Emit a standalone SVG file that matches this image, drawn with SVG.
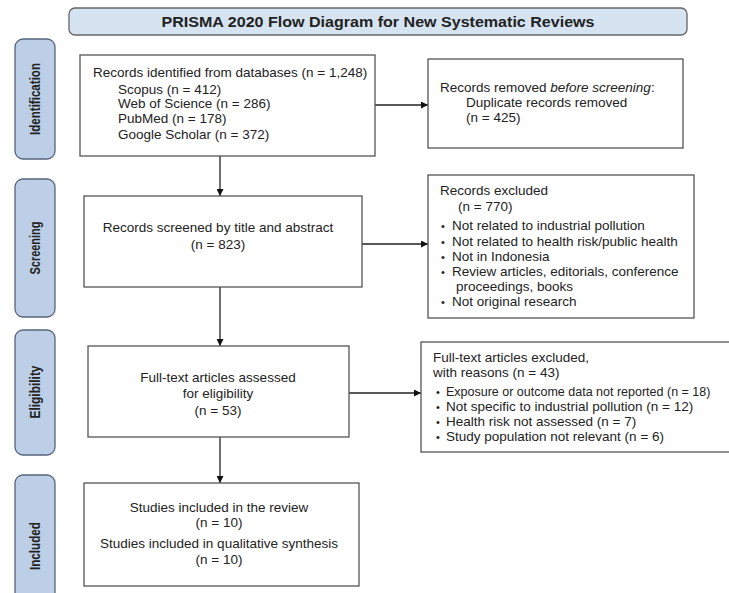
<svg xmlns="http://www.w3.org/2000/svg" width="729" height="593" viewBox="0 0 729 593">
<defs>
<marker id="ah" viewBox="0 0 10 10" refX="10" refY="5" markerWidth="7" markerHeight="7" markerUnits="userSpaceOnUse" orient="auto">
<path d="M0,0 L10,5 L0,10 z" fill="#111"/>
</marker>
<style>
.box{fill:#fff;stroke:#555;stroke-width:1.3}
.tab{fill:#bccfe6;stroke:#56657a;stroke-width:1.3}
.t{font-family:"Liberation Sans",Arial,sans-serif;font-size:13.5px;fill:#222}
.s{font-size:12.5px}
.b{font-size:11px}
.c{text-anchor:middle}
.tl{font-family:"Liberation Sans",Arial,sans-serif;font-size:15px;font-weight:bold;fill:#222;text-anchor:middle}
.conn{stroke:#222;stroke-width:1.3;fill:none;marker-end:url(#ah)}
</style>
</defs>
<rect width="729" height="593" fill="#fff"/>
<g id="title">
<rect x="69" y="8" width="618" height="27" rx="6" fill="#d6e4f1" stroke="#666" stroke-width="1.3"/>
<text x="378" y="27" class="tl" textLength="433" lengthAdjust="spacingAndGlyphs">PRISMA 2020 Flow Diagram for New Systematic Reviews</text>
</g>
<g id="tab-identification">
<rect x="15" y="39" width="40" height="120" rx="8" class="tab"/>
<text transform="translate(40,99) rotate(-90)" class="tl" textLength="72" lengthAdjust="spacingAndGlyphs">Identification</text>
</g>
<g id="tab-screening">
<rect x="15" y="179" width="40" height="138" rx="8" class="tab"/>
<text transform="translate(40,248) rotate(-90)" class="tl" textLength="53" lengthAdjust="spacingAndGlyphs">Screening</text>
</g>
<g id="tab-eligibility">
<rect x="15" y="330" width="40" height="125" rx="8" class="tab"/>
<text transform="translate(40,392) rotate(-90)" class="tl" textLength="53" lengthAdjust="spacingAndGlyphs">Eligibility</text>
</g>
<g id="tab-included">
<rect x="15" y="475" width="40" height="140" rx="8" class="tab"/>
<text transform="translate(40,546) rotate(-90)" class="tl" textLength="48" lengthAdjust="spacingAndGlyphs">Included</text>
</g>
<g id="connectors">
<line x1="220" y1="156" x2="220" y2="196" class="conn"/>
<line x1="375" y1="105" x2="428" y2="105" class="conn"/>
<line x1="362" y1="244" x2="428" y2="244" class="conn"/>
<line x1="220" y1="287" x2="220" y2="346" class="conn"/>
<line x1="349" y1="393" x2="421" y2="393" class="conn"/>
<line x1="220" y1="437" x2="220" y2="483" class="conn"/>
</g>
<g id="identified">
<rect x="80" y="55" width="295" height="101" class="box"/>
<text x="93" y="77" class="t">Records identified from databases (n = 1,248)</text>
<text x="118" y="94" class="t">Scopus (n = 412)</text>
<text x="118" y="108" class="t">Web of Science (n = 286)</text>
<text x="118" y="123" class="t">PubMed (n = 178)</text>
<text x="118" y="139" class="t">Google Scholar (n = 372)</text>
</g>
<g id="removed">
<rect x="428" y="59" width="255" height="89" class="box"/>
<text x="440" y="92" class="t">Records removed <tspan font-style="italic">before screening</tspan>:</text>
<text x="466" y="107" class="t">Duplicate records removed</text>
<text x="466" y="122" class="t">(n = 425)</text>
</g>
<g id="screened">
<rect x="84" y="196" width="278" height="91" class="box"/>
<text x="218" y="232" class="t c">Records screened by title and abstract</text>
<text x="218" y="249" class="t c">(n = 823)</text>
</g>
<g id="excluded">
<rect x="428" y="175" width="266" height="143" class="box"/>
<text x="440" y="195" class="t">Records excluded</text>
<text x="458" y="211" class="t">(n = 770)</text>
<text x="441" y="230" class="t b">•</text><text x="452" y="230" class="t">Not related to industrial pollution</text>
<text x="441" y="246" class="t b">•</text><text x="452" y="246" class="t">Not related to health risk/public health</text>
<text x="441" y="261" class="t b">•</text><text x="452" y="261" class="t">Not in Indonesia</text>
<text x="441" y="276" class="t b">•</text><text x="452" y="276" class="t">Review articles, editorials, conference</text>
<text x="456" y="291" class="t">proceedings, books</text>
<text x="441" y="306" class="t b">•</text><text x="452" y="306" class="t">Not original research</text>
</g>
<g id="assessed">
<rect x="88" y="346" width="261" height="91" class="box"/>
<text x="218" y="382" class="t c">Full-text articles assessed</text>
<text x="218" y="398" class="t c">for eligibility</text>
<text x="218" y="415" class="t c">(n = 53)</text>
</g>
<g id="fulltext-excluded">
<rect x="421" y="342" width="320" height="110" class="box"/>
<text x="433" y="362" class="t">Full-text articles excluded,</text>
<text x="433" y="377" class="t">with reasons (n = 43)</text>
<text x="436" y="396" class="t b">•</text><text x="446" y="396" class="t s">Exposure or outcome data not reported (n = 18)</text>
<text x="436" y="411" class="t b">•</text><text x="446" y="411" class="t">Not specific to industrial pollution (n = 12)</text>
<text x="436" y="426" class="t b">•</text><text x="446" y="426" class="t">Health risk not assessed (n = 7)</text>
<text x="436" y="441" class="t b">•</text><text x="446" y="441" class="t">Study population not relevant (n = 6)</text>
</g>
<g id="included">
<rect x="84" y="483" width="275" height="103" class="box"/>
<text x="219" y="512" class="t c">Studies included in the review</text>
<text x="219" y="527" class="t c">(n = 10)</text>
<text x="219" y="548" class="t c">Studies included in qualitative synthesis</text>
<text x="219" y="564" class="t c">(n = 10)</text>
</g>
</svg>
